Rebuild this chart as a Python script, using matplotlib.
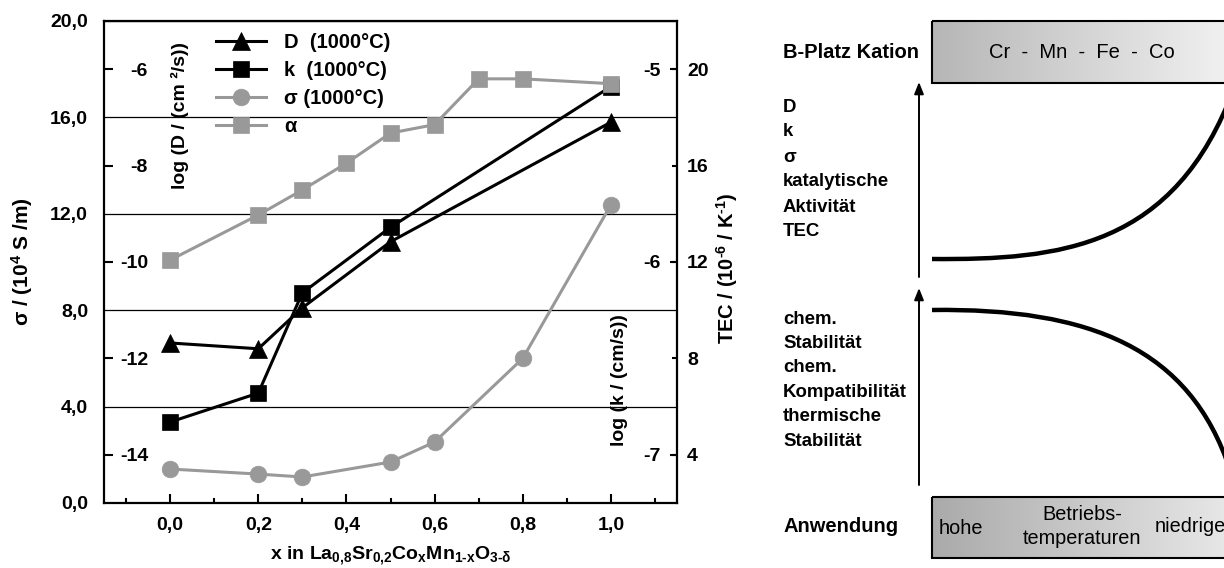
import numpy as np
import matplotlib
matplotlib.use("Agg")
import matplotlib.pyplot as plt
from matplotlib.colors import LinearSegmentedColormap
from matplotlib.patches import Rectangle, PathPatch
from matplotlib.path import Path

plt.rcParams['font.family'] = ['Liberation Sans', 'DejaVu Sans']
plt.rcParams['font.weight'] = 'bold'
plt.rcParams['mathtext.fontset'] = 'custom'
plt.rcParams['mathtext.rm'] = 'Liberation Sans'
plt.rcParams['mathtext.default'] = 'regular'
plt.rcParams['axes.unicode_minus'] = False

# --- measured data (left panel) ---
x_D = [0.0, 0.2, 0.3, 0.5, 1.0]
log_D = [-11.68, -11.8, -10.95, -9.58, -7.1]
x_k = [0.0, 0.2, 0.3, 0.5, 1.0]
log_k = [-6.83, -6.68, -6.16, -5.82, -5.09]
x_sigma = [0.0, 0.2, 0.3, 0.5, 0.6, 0.8, 1.0]
sigma = [1.41, 1.2, 1.08, 1.7, 2.53, 6.0, 12.37]
x_tec = [0.0, 0.2, 0.3, 0.4, 0.5, 0.6, 0.7, 0.8, 1.0]
tec = [12.08, 13.95, 14.99, 16.1, 17.35, 17.7, 19.6, 19.6, 19.4]

x_major = [0.0, 0.2, 0.4, 0.6, 0.8, 1.0]
x_minor = [-0.1, 0.1, 0.3, 0.5, 0.7, 0.9, 1.1]
x_labels = ['0,0', '0,2', '0,4', '0,6', '0,8', '1,0']
sigma_ticks = [0, 4, 8, 12, 16, 20]
sigma_labels = ['0,0', '4,0', '8,0', '12,0', '16,0', '20,0']
logD_ticks = [-14, -12, -10, -8, -6]
logk_ticks = [-7, -6, -5]
tec_ticks = [4, 8, 12, 16, 20]

# --- schematic (right panel): bezier control points in pixel units ---
up_curve = [(932, 259), (1060, 260), (1175, 248), (1234, 88)]
down_curve = [(932, 310), (1090, 308), (1190, 348), (1230, 470)]
list_up = ['D', 'k', 'σ', 'katalytische', 'Aktivität', 'TEC']
list_down = ['chem.', 'Stabilität', 'chem.', 'Kompatibilität', 'thermische', 'Stabilität']

gray = '#999999'
hy = '\u2010'

fig = plt.figure(figsize=(12.24, 5.68), dpi=100)
ax = fig.add_axes([104 / 1224, 1 - 503 / 568, 573 / 1224, 482 / 568])
ax_d = ax.twinx()
ax_k = ax.twinx()
ax_t = ax.twinx()

# host: sigma
ax.set_xlim(-0.15, 1.15)
ax.set_ylim(0, 20)
ax.set_xticks(x_major)
ax.set_xticklabels(x_labels)
ax.set_xticks(x_minor, minor=True)
ax.set_yticks(sigma_ticks)
ax.set_yticklabels(sigma_labels)
ax.tick_params(axis='x', which='major', direction='in', length=6.5, width=1.5, pad=10, labelsize=14)
ax.tick_params(axis='x', which='minor', direction='in', length=3.6, width=1.5)
ax.tick_params(axis='y', length=0, pad=11.5, labelsize=14)
ax.grid(axis='y', color='black', lw=0.9)
ax.set_axisbelow(True)
for s in ax.spines.values():
    s.set_linewidth(1.6)

ln_s, = ax.plot(x_sigma, sigma, color=gray, lw=2.2, marker='o', ms=12, mec=gray, mew=0.5,
                label='σ (1000°C)')

# log D, labels inside on the left
ax_d.set_ylim(-15, -5)
ax_d.yaxis.tick_left()
ax_d.set_yticks(logD_ticks)
ax_d.tick_params(axis='y', direction='in', length=6.5, width=1.5, pad=-31.7, labelsize=14)
ln_d, = ax_d.plot(x_D, log_D, color='black', lw=2.2, marker='^', ms=12.5, mew=0.5,
                  label='D  (1000°C)')

# log k, labels inside on the right
ax_k.set_ylim(-7.25, -4.75)
ax_k.set_yticks(logk_ticks)
ax_k.tick_params(axis='y', direction='in', length=5, width=1.5, pad=-24.5, labelsize=14)
ln_k, = ax_k.plot(x_k, log_k, color='black', lw=2.2, marker='s', ms=11, mew=0.5,
                  label='k  (1000°C)')

# TEC, labels outside on the right
ax_t.set_ylim(2, 22)
ax_t.set_yticks(tec_ticks)
ax_t.tick_params(axis='y', direction='in', length=3.6, width=1.5, pad=7.2, labelsize=14)
ln_t, = ax_t.plot(x_tec, tec, color=gray, lw=2.2, marker='s', ms=11, mec=gray, mew=0.5,
                  label='α')

for a in (ax_d, ax_k, ax_t):
    for s in a.spines.values():
        s.set_visible(False)

ax_t.legend(handles=[ln_d, ln_k, ln_s, ln_t], loc='upper left', bbox_to_anchor=(0.1955, 0.975),
            frameon=False, fontsize=14.5, handlelength=2.5, handletextpad=0.9,
            labelspacing=0.45, borderpad=0, borderaxespad=0)

ax.text(-0.143, 0.5, 'σ / (10$^4$ S /m)', rotation=90, transform=ax.transAxes,
        ha='center', va='center', fontsize=15)
ax.text(0.1326, 0.803, 'log (D / (cm ²/s))', rotation=90, transform=ax.transAxes,
        ha='center', va='center', fontsize=14)
ax.text(0.9005, 0.255, 'log (k / (cm/s))', rotation=90, transform=ax.transAxes,
        ha='center', va='center', fontsize=14)
ax.text(1.087, 0.4876, 'TEC / (10$^{' + hy + '6}$ / K$^{' + hy + '1}$)', rotation=90,
        transform=ax.transAxes, ha='center', va='center', fontsize=14.5)
ax.text(0.5, -0.108, 'x in La$_{0{,}8}$Sr$_{0{,}2}$Co$_x$Mn$_{1' + hy + 'x}$O$_{3' + hy + 'δ}$',
        transform=ax.transAxes, ha='center', va='center', fontsize=14)

# --- right schematic, drawn in pixel units of the figure ---
ov = fig.add_axes([0, 0, 1, 1])
ov.patch.set_visible(False)
ov.axis('off')

cmap_up = LinearSegmentedColormap.from_list('up', ['#b6b6b6', '#ffffff'])
cmap_dn = LinearSegmentedColormap.from_list('dn', ['#aaaaaa', '#f6f6f6'])
grad = np.linspace(0, 1, 256).reshape(1, -1)
ov.imshow(grad, extent=(932, 1300, 83, 21), cmap=cmap_up, aspect='auto', zorder=1)
ov.imshow(grad, extent=(932, 1300, 558, 497), cmap=cmap_dn, aspect='auto', zorder=1)
ov.add_patch(Rectangle((932, 21), 368, 62, fill=False, ec='black', lw=1.5, zorder=2))
ov.add_patch(Rectangle((932, 497), 368, 61, fill=False, ec='black', lw=1.5, zorder=2))

arrow = dict(arrowstyle='-|>,head_length=0.5,head_width=0.2', color='black', lw=1.4,
             shrinkA=0, shrinkB=0, mutation_scale=14)
ov.annotate('', xy=(919, 82), xytext=(919, 277), arrowprops=arrow)
ov.annotate('', xy=(919, 288), xytext=(919, 485), arrowprops=arrow)

codes = [Path.MOVETO, Path.CURVE4, Path.CURVE4, Path.CURVE4]
ov.add_patch(PathPatch(Path(up_curve, codes), fill=False, lw=3.2, ec='black', capstyle='butt'))
ov.add_patch(PathPatch(Path(down_curve, codes), fill=False, lw=3.2, ec='black', capstyle='butt'))

ov.text(783, 52, 'B-Platz Kation', fontsize=14.5, weight='bold', va='center')
ov.text(1082, 52, 'Cr  -  Mn  -  Fe  -  Co', fontsize=14.5, weight='normal',
        ha='center', va='center', zorder=3)
for i, t in enumerate(list_up):
    ov.text(783, 107 + i * 25, t, fontsize=13.4, weight='bold', va='center')
for i, t in enumerate(list_down):
    ov.text(783, 319 + i * 24.4, t, fontsize=13.4, weight='bold', va='center')
ov.text(783, 527, 'Anwendung', fontsize=14.5, weight='bold', va='center')
ov.text(939, 528, 'hohe', fontsize=14.3, weight='normal', va='center', zorder=3)
ov.text(1082, 515, 'Betriebs-', fontsize=14.3, weight='normal', ha='center', va='center', zorder=3)
ov.text(1082, 538, 'temperaturen', fontsize=14.3, weight='normal', ha='center', va='center', zorder=3)
ov.text(1155, 527, 'niedrige', fontsize=14.3, weight='normal', va='center', zorder=3)

ov.set_xlim(0, 1224)
ov.set_ylim(568, 0)

fig.savefig('out.png', dpi=100)
